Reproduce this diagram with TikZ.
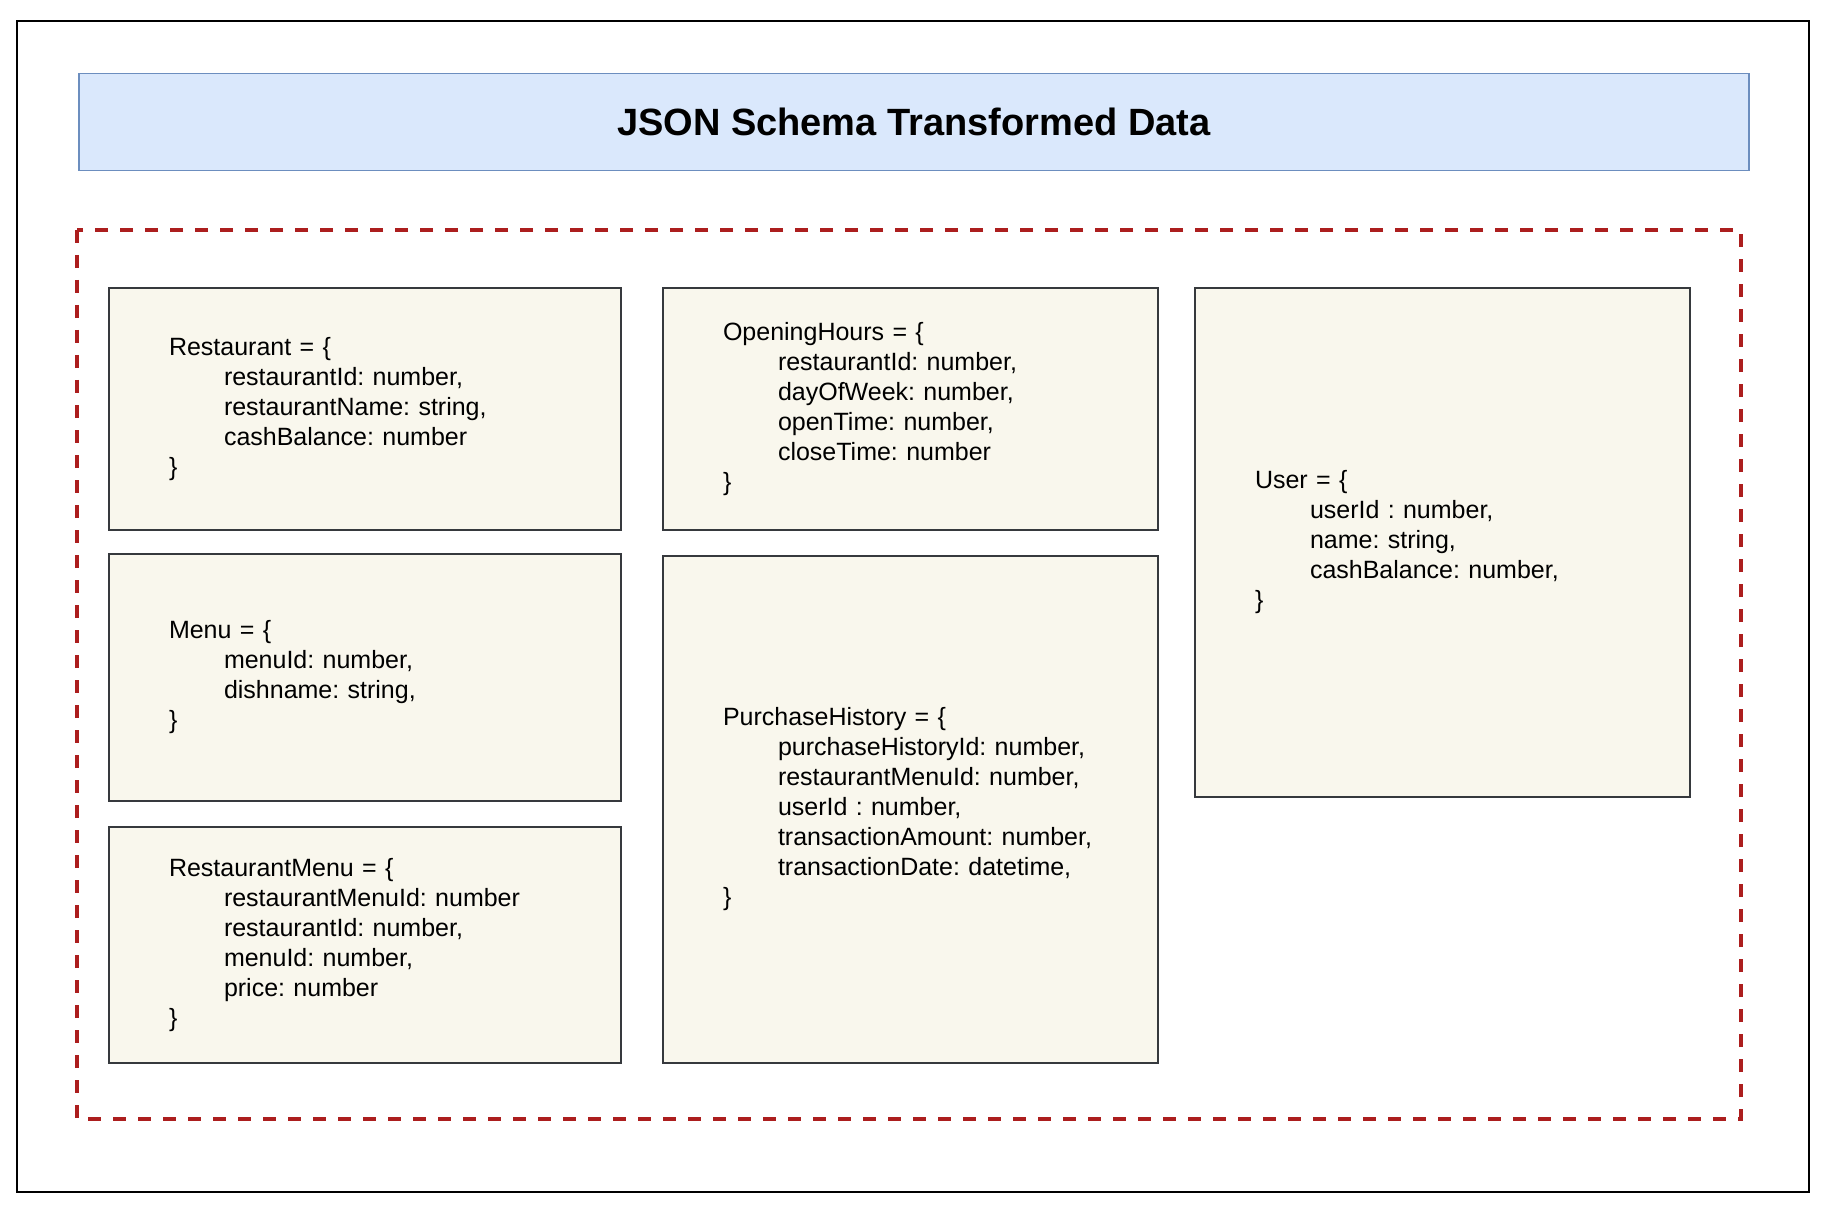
\documentclass[tikz,border=0pt]{standalone}
\usepackage{fontspec}
\setmainfont{Liberation Sans}
\definecolor{titlefill}{HTML}{DAE8FC}
\definecolor{titledraw}{HTML}{6C8EBF}
\definecolor{boxfill}{HTML}{F9F7ED}
\definecolor{boxdraw}{HTML}{36393D}
\definecolor{dashred}{RGB}{172,30,30}
\tikzset{
  schemabox/.style={draw=boxdraw, fill=boxfill, line width=2pt, anchor=north west,
    align=left, inner xsep=60pt, inner ysep=0pt,
    font=\fontsize{25}{30}\selectfont\frenchspacing},
}
\newcommand{\ind}{\hspace*{55pt}}
\begin{document}
\begin{tikzpicture}[x=1pt,y=1pt]
\useasboundingbox (0,0) rectangle (1824,-1206);
\fill[white] (0,0) rectangle (1824,-1206);
\draw[black, line width=2pt] (17,-21) rectangle (1809,-1192);
\node[draw=titledraw, fill=titlefill, line width=1.5pt, anchor=north west,
  minimum width=1670pt, minimum height=97pt, inner sep=0pt,
  font=\fontsize{38}{44}\selectfont\bfseries] (title) at (78,-73) {JSON Schema Transformed Data};
\draw[dashred, line width=3.5pt, dash pattern=on 13pt off 12pt] (77,-230) rectangle (1741,-1119);

\node[schemabox, text width=392pt, minimum height=242pt] (restaurant) at (108,-287)
 {Restaurant = \{\\ \ind restaurantId: number,\\ \ind restaurantName: string,\\ \ind cashBalance: number\\ \}};
\node[schemabox, text width=392pt, minimum height=247pt] (menu) at (108,-553)
 {Menu = \{\\ \ind menuId: number,\\ \ind dishname: string,\\ \}};
\node[schemabox, text width=392pt, minimum height=236pt] (restmenu) at (108,-826)
 {RestaurantMenu = \{\\ \ind restaurantMenuId: number\\ \ind restaurantId: number,\\ \ind menuId: number,\\ \ind price: number\\ \}};
\node[schemabox, text width=375pt, minimum height=242pt] (opening) at (662,-287)
 {OpeningHours = \{\\ \ind restaurantId: number,\\ \ind dayOfWeek: number,\\ \ind openTime: number,\\ \ind closeTime: number\\ \}};
\node[schemabox, text width=375pt, minimum height=507pt] (purchase) at (662,-555)
 {PurchaseHistory = \{\\ \ind purchaseHistoryId: number,\\ \ind restaurantMenuId: number,\\ \ind userId : number,\\ \ind transactionAmount: number,\\ \ind transactionDate: datetime,\\ \}};
\node[schemabox, text width=375pt, minimum height=509pt] (user) at (1194,-287)
 {User = \{\\ \ind userId : number,\\ \ind name: string,\\ \ind cashBalance: number,\\ \}};
\end{tikzpicture}
\end{document}
